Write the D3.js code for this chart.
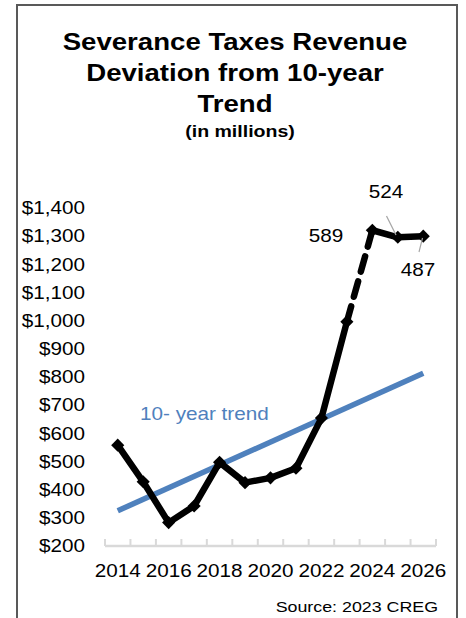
<!DOCTYPE html>
<html>
<head>
<meta charset="utf-8">
<script src="https://cdn.jsdelivr.net/npm/d3@7"></script>
<style>
  html, body { margin: 0; padding: 0; background: #fff; }
  svg { display: block; font-family: "Liberation Sans", Arial, sans-serif; }
</style>
</head>
<body>
<svg id="chart" width="466" height="618"></svg>
<script>
// Severance tax revenue by fiscal year, $ millions
const years = [2014, 2015, 2016, 2017, 2018, 2019, 2020, 2021, 2022, 2023, 2024, 2025, 2026];
const revenue = [558, 428, 283, 342, 497, 425, 442, 476, 654, 996, 1321, 1296, 1300];

// 10-year trend line endpoints
const trendYears = [2014, 2026];
const trendValues = [325, 813];

// Deviation above trend for the forecast years
const deviationYears = [2024, 2025, 2026];
const deviationLabels = ["589", "524", "487"];

const yTicks = [200, 300, 400, 500, 600, 700, 800, 900, 1000, 1100, 1200, 1300, 1400];
const xLabelYears = [2014, 2016, 2018, 2020, 2022, 2024, 2026];

const titleLines = ["Severance Taxes Revenue", "Deviation from 10-year", "Trend"];
const subtitle = "(in millions)";
const source = "Source: 2023 CREG";

// text is set slightly wide, as in the original slide
const STRETCH = 1.15;
const wide = (x, y) => `translate(${x},${y}) scale(${STRETCH},1)`;

const svg = d3.select("#chart");

// outer frame
svg.append("rect")
  .attr("x", 17).attr("y", 5)
  .attr("width", 440).attr("height", 640)
  .attr("fill", "#fff")
  .attr("stroke", "#595959").attr("stroke-width", 2);

// titles
const title = svg.append("g").attr("text-anchor", "middle").attr("font-weight", "bold").attr("fill", "#000");
title.selectAll("text.t").data(titleLines).join("text")
  .attr("class", "t")
  .attr("transform", (d, i) => wide(235, 50 + i * 31))
  .attr("font-size", 24)
  .text(d => d);
title.append("text")
  .attr("transform", wide(240, 137))
  .attr("font-size", 17)
  .text(subtitle);

const x = d3.scaleBand().domain(years).range([105, 436]).paddingInner(0).paddingOuter(0);
const y = d3.scaleLinear().domain([200, 1400]).range([546, 208]);
const cx = d => x(d) + x.bandwidth() / 2;

// y tick labels
svg.append("g").selectAll("text").data(yTicks).join("text")
  .attr("transform", d => wide(85, y(d)))
  .attr("dy", "0.35em")
  .attr("text-anchor", "end")
  .attr("font-size", 18)
  .attr("fill", "#000")
  .text(d => d3.format("$,")(d));

// category axis: baseline with tick marks at band edges
const axisG = svg.append("g");
axisG.append("line")
  .attr("x1", x.range()[0]).attr("x2", x.range()[1])
  .attr("y1", y(200)).attr("y2", y(200))
  .attr("stroke", "#d9d9d9").attr("stroke-width", 2.5);
const edges = years.map(d => x(d)).concat([x(years[years.length - 1]) + x.bandwidth()]);
axisG.selectAll("line.tick").data(edges).join("line")
  .attr("class", "tick")
  .attr("x1", d => d).attr("x2", d => d)
  .attr("y1", y(200)).attr("y2", y(200) - 7)
  .attr("stroke", "#d9d9d9").attr("stroke-width", 2);
axisG.selectAll("text").data(xLabelYears).join("text")
  .attr("transform", d => wide(cx(d), 577))
  .attr("text-anchor", "middle")
  .attr("font-size", 18)
  .attr("fill", "#000")
  .text(d => d);

// trend line
const trend = trendYears.map((yr, i) => ({ year: yr, value: trendValues[i] }));
svg.append("path")
  .datum(trend)
  .attr("d", d3.line().x(d => cx(d.year)).y(d => y(d.value)))
  .attr("fill", "none")
  .attr("stroke", "#4F81BD").attr("stroke-width", 5.5);

svg.append("text")
  .attr("transform", wide(140, 420))
  .attr("font-size", 18)
  .attr("fill", "#4F81BD")
  .text("10- year trend");

// revenue line: actuals solid, jump into forecast dashed, forecast solid
const pts = years.map((yr, i) => ({ year: yr, value: revenue[i] }));
const line = d3.line().x(d => cx(d.year)).y(d => y(d.value));
const i23 = years.indexOf(2023), i24 = years.indexOf(2024);
const segs = [
  { data: pts.slice(0, i23 + 1), dash: null },
  { data: pts.slice(i23, i24 + 1), dash: "16 10" },
  { data: pts.slice(i24), dash: null }
];
svg.append("g").selectAll("path").data(segs).join("path")
  .attr("d", d => line(d.data))
  .attr("fill", "none")
  .attr("stroke", "#000")
  .attr("stroke-width", 6.5)
  .attr("stroke-linejoin", "round")
  .attr("stroke-linecap", "round")
  .attr("stroke-dasharray", d => d.dash);

// diamond markers
svg.append("g").selectAll("path").data(pts).join("path")
  .attr("transform", d => `translate(${cx(d.year)},${y(d.value)})`)
  .attr("d", d3.symbol(d3.symbolDiamond2, 110)())
  .attr("fill", "#000");

// deviation labels with leader lines
const labelPos = {
  2024: { x: 326, y: 242 },
  2025: { x: 386, y: 198, lead: [386.5, 216, 396, 235] },
  2026: { x: 418, y: 276, lead: [422.5, 238, 419, 252] }
};
const devG = svg.append("g");
deviationYears.forEach((yr, i) => {
  const p = labelPos[yr];
  if (p.lead) {
    devG.append("line")
      .attr("x1", p.lead[0]).attr("y1", p.lead[1])
      .attr("x2", p.lead[2]).attr("y2", p.lead[3])
      .attr("stroke", "#a6a6a6").attr("stroke-width", 1.2);
  }
  devG.append("text")
    .attr("transform", wide(p.x, p.y))
    .attr("text-anchor", "middle")
    .attr("font-size", 18)
    .attr("fill", "#000")
    .text(deviationLabels[i]);
});

// source note
svg.append("text")
  .attr("transform", wide(438, 612))
  .attr("text-anchor", "end")
  .attr("font-size", 15.5)
  .attr("fill", "#000")
  .text(source);
</script>
</body>
</html>
